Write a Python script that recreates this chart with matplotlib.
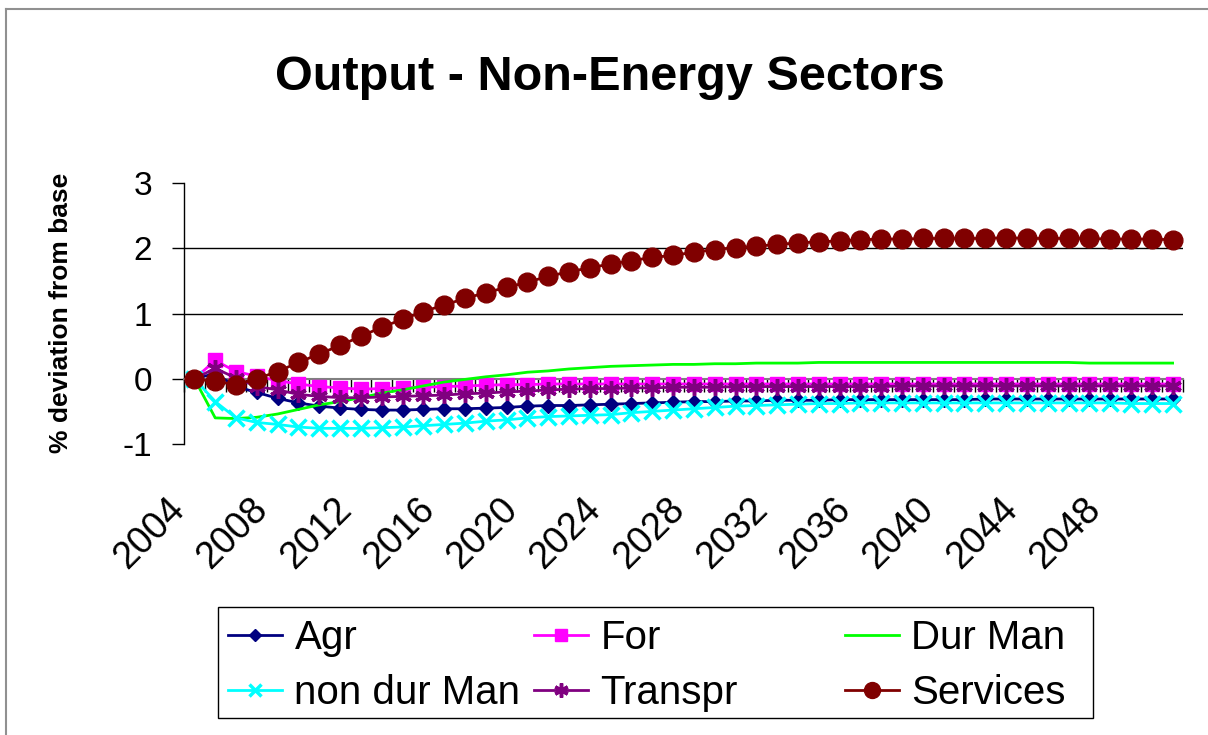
import matplotlib
matplotlib.use('Agg')
import matplotlib.pyplot as plt
import matplotlib.transforms as mtransforms
from matplotlib.lines import Line2D
from matplotlib.patches import Rectangle

plt.rcParams['font.family'] = ['Liberation Sans', 'DejaVu Sans']
plt.rcParams['axes.unicode_minus'] = False

# data: % deviation from base, 2004-2051
years = list(range(2004, 2052))
agr = [0, 0.08, -0.12, -0.21, -0.30, -0.37, -0.42, -0.45, -0.47, -0.48,
       -0.48, -0.47, -0.46, -0.46, -0.45, -0.44, -0.42, -0.41, -0.41, -0.40,
       -0.39, -0.38, -0.37, -0.36, -0.35, -0.35, -0.34, -0.34, -0.33, -0.33,
       -0.33, -0.32, -0.32, -0.32, -0.32, -0.32, -0.32, -0.32, -0.31, -0.31,
       -0.31, -0.31, -0.31, -0.31, -0.31, -0.31, -0.31, -0.31]
forestry = [0, 0.28, 0.11, 0.04, -0.03, -0.08, -0.12, -0.14, -0.16, -0.15,
            -0.14, -0.13, -0.12, -0.11, -0.10, -0.09, -0.09, -0.08, -0.08, -0.08,
            -0.08, -0.08, -0.08, -0.08, -0.08, -0.08, -0.08, -0.08, -0.08, -0.08,
            -0.08, -0.08, -0.08, -0.08, -0.08, -0.08, -0.08, -0.08, -0.08, -0.08,
            -0.08, -0.08, -0.08, -0.08, -0.08, -0.08, -0.08, -0.08]
dur_man = [0, -0.60, -0.61, -0.59, -0.54, -0.47, -0.40, -0.35, -0.29, -0.22,
           -0.17, -0.11, -0.05, -0.01, 0.03, 0.06, 0.10, 0.12, 0.15, 0.17,
           0.19, 0.20, 0.21, 0.22, 0.22, 0.23, 0.23, 0.24, 0.24, 0.24,
           0.25, 0.25, 0.25, 0.25, 0.25, 0.25, 0.25, 0.25, 0.25, 0.25,
           0.25, 0.25, 0.25, 0.24, 0.24, 0.24, 0.24, 0.24]
non_dur_man = [0, -0.35, -0.60, -0.67, -0.70, -0.74, -0.76, -0.76, -0.76, -0.75,
               -0.74, -0.72, -0.70, -0.68, -0.65, -0.63, -0.60, -0.58, -0.57, -0.56,
               -0.55, -0.52, -0.50, -0.48, -0.46, -0.44, -0.42, -0.41, -0.40, -0.39,
               -0.38, -0.38, -0.37, -0.37, -0.37, -0.37, -0.37, -0.37, -0.37, -0.37,
               -0.37, -0.37, -0.37, -0.37, -0.37, -0.38, -0.38, -0.38]
transpr = [0, 0.16, 0.01, -0.12, -0.17, -0.24, -0.27, -0.29, -0.29, -0.28,
           -0.27, -0.26, -0.25, -0.23, -0.22, -0.20, -0.19, -0.17, -0.16, -0.15,
           -0.15, -0.14, -0.14, -0.13, -0.13, -0.13, -0.12, -0.12, -0.12, -0.12,
           -0.12, -0.12, -0.12, -0.12, -0.11, -0.11, -0.11, -0.11, -0.11, -0.11,
           -0.11, -0.11, -0.11, -0.11, -0.11, -0.11, -0.11, -0.11]
services = [0, -0.04, -0.09, 0.0, 0.11, 0.25, 0.38, 0.51, 0.65, 0.79,
            0.91, 1.03, 1.13, 1.23, 1.32, 1.40, 1.48, 1.57, 1.64, 1.70,
            1.76, 1.81, 1.86, 1.89, 1.94, 1.98, 2.01, 2.03, 2.06, 2.08,
            2.10, 2.11, 2.13, 2.14, 2.14, 2.15, 2.15, 2.15, 2.15, 2.16,
            2.15, 2.15, 2.15, 2.15, 2.14, 2.14, 2.14, 2.13]
year_labels = years[::4]

W, H = 1208, 735
fig = plt.figure(figsize=(W / 100, H / 100), dpi=100)
ax = fig.add_axes([184 / W, 1 - 444 / H, (1183 - 184) / W, (444 - 183) / H])

series = [
    ('Agr', agr, dict(color='#000080', marker='D', ms=7, mec='#000080')),
    ('For', forestry, dict(color='#FF00FF', marker='s', ms=10.5, mec='#FF00FF')),
    ('Dur Man', dur_man, dict(color='#00FF00', marker=None)),
    ('non dur Man', non_dur_man, dict(color='#00FFFF', marker='x', ms=11, mew=2.5)),
    ('Transpr', transpr, dict(color='#800080', marker=(6, 2, 0), ms=12, mew=2.5)),
    ('Services', services, dict(color='#800000', marker='o', ms=13.5, mec='#800000')),
]
handles = []
for name, vals, style in series:
    h, = ax.plot(years, vals, lw=2, label=name, zorder=3, **style)
    handles.append(h)

ax.set_xlim(years[0] - 0.5, years[-1] + 0.5)
ax.set_ylim(-1, 3)
ax.set_yticks([-1, 0, 1, 2, 3])
ax.tick_params(axis='y', direction='out', length=9, width=1, pad=14, labelsize=24)
for v in [1, 2]:
    ax.axhline(v, color='black', lw=1, zorder=1)

for s in ['top', 'right']:
    ax.spines[s].set_visible(False)
ax.spines['left'].set_linewidth(1)
ax.spines['bottom'].set_position(('data', 0))
ax.spines['bottom'].set_color('#808080')
ax.spines['bottom'].set_linewidth(1.5)
ax.set_xticks([y - 0.5 for y in years] + [years[-1] + 0.5])
ax.tick_params(axis='x', direction='out', length=9, width=1, labelbottom=False)

# category labels below the plot area
offset = mtransforms.ScaledTranslation(-0.28, -0.47, fig.dpi_scale_trans)
trans = mtransforms.blended_transform_factory(ax.transData, ax.transAxes) + offset
for y in year_labels:
    ax.text(y, 0, str(y), transform=trans, rotation=45, rotation_mode='anchor',
            ha='right', va='top', fontsize=27, clip_on=False)

fig.text(61 / W, 1 - 313 / H, '% deviation from base', rotation=90,
         fontsize=19, fontweight='bold', ha='center', va='center')
fig.text(610 / W, 1 - 77 / H, 'Output - Non-Energy Sectors',
         fontsize=35, fontweight='bold', ha='center', va='center')

# legend: box plus three columns
fig.patches.append(Rectangle((218 / W, 1 - 718 / H), (1093 - 218) / W, (718 - 607) / H,
                             transform=fig.transFigure, fill=False, ec='black', lw=1))
col_x = [228, 534, 845]
for i, x in enumerate(col_x):
    leg = fig.legend([handles[i], handles[i + 3]], [series[i][0], series[i + 3][0]],
                     loc='upper left', bbox_to_anchor=(x / W, 1 - 619 / H),
                     frameon=False, fontsize=29, handlelength=1.35, handletextpad=0.3,
                     labelspacing=0.42, borderpad=0, borderaxespad=0)
    for lh in leg.legend_handles:
        lh.set_markersize(lh.get_markersize() * 0.85)

# outer chart border
fig.add_artist(Line2D([6 / W, 1], [1 - 9 / H, 1 - 9 / H], transform=fig.transFigure,
                      color='#909090', lw=1.5))
fig.add_artist(Line2D([6 / W, 6 / W], [1 - 9 / H, 0], transform=fig.transFigure,
                      color='#909090', lw=1.5))

fig.savefig('out.png', dpi=100)
